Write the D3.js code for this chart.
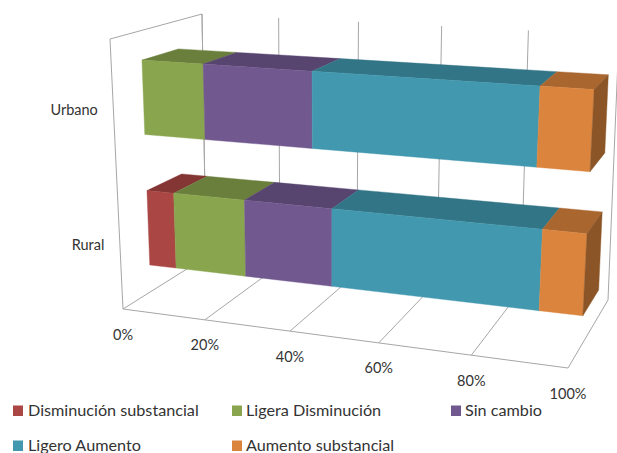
<!DOCTYPE html>
<html><head><meta charset="utf-8">
<script src="https://cdn.jsdelivr.net/npm/d3@7/dist/d3.min.js"></script>
<style>html,body{margin:0;padding:0;background:#fff}svg{display:block}text{font-family:Lato,"Open Sans",sans-serif;fill:#333333}</style>
</head><body><div id="c"></div>
<script>
const categories = ["Rural", "Urbano"];
const seriesNames = ["Disminución substancial", "Ligera Disminución", "Sin cambio", "Ligero Aumento", "Aumento substancial"];
const rural  = [6.7, 17.3, 20.6, 46.2, 9.2];
const urbano = [0, 14.8, 25.3, 49.0, 10.9];
const ticks = [0, 20, 40, 60, 80, 100];
const frontColors = ["#AA4643", "#89A54E", "#71588F", "#4198AF", "#DB843D"];
const topColors   = ["#833634", "#6A7F3C", "#57446F", "#327587", "#A9662F"];
const sideColors  = ["#6F2D2B", "#586A32", "#49395C", "#2A6170", "#8B5527"];

const W = 617, H = 453;
const svg = d3.select("#c").append("svg").attr("width", W).attr("height", H);

// Box corners of the 3D plot on screen: [x,y], indexed by right/back/top
const box = {
  lfb: [123, 309], rfb: [568, 368], lbb: [206, 257], rbb: [608, 300],
  lft: [110, 39],  rft: [584, 68],  lbt: [202, 14],  rbt: [619, 35]
};
const persp = 1.11;
const x = d3.scaleLinear().domain([0, 100]).range([0, 1]);
const warp = t => t / (t + (1 - t) * persp);
const y = d3.scaleBand().domain(categories).range([-0.0055, 0.9945]).paddingInner(0.43).paddingOuter(0.215);
const barDepth = [0.335, 0.735];
const mix = (a, b, k) => [a[0] + (b[0] - a[0]) * k, a[1] + (b[1] - a[1]) * k];
function project(v, d, h) {
  const t = warp(x(v));
  const bottom = mix(mix(box.lfb, box.rfb, t), mix(box.lbb, box.rbb, t), d);
  const top = mix(mix(box.lft, box.rft, t), mix(box.lbt, box.rbt, t), d);
  return mix(bottom, top, h);
}
const line = d3.line();
const gridColor = "#a6a6a6";
const grid = svg.append("g").attr("fill", "none").attr("stroke", gridColor).attr("stroke-width", 1);
function seg(a, b) { grid.append("path").attr("d", line([a, b])); }

// walls and floor
seg(project(0, 0, 0), project(0, 0, 1));
seg(project(0, 0, 1), project(0, 1, 1));
seg(project(0, 1, 1), project(0, 1, 0));
seg(project(0, 0, 0), project(100, 0, 0));
ticks.forEach(v => {
  seg(project(v, 0, 0), project(v, 1, 0));
  seg(project(v, 1, 0), project(v, 1, 1));
});

// bars
const rows = [["Rural", rural], ["Urbano", urbano]];
const bars = svg.append("g");
rows.forEach(([cat, vals]) => {
  const h0 = y(cat), h1 = h0 + y.bandwidth();
  const [d0, d1] = barDepth;
  const stack = d3.cumsum(vals);
  const total = stack[stack.length - 1];
  vals.forEach((val, i) => {
    if (val <= 0) return;
    const a = (stack[i] - val) / total * 100, b = stack[i] / total * 100;
    bars.append("path").attr("fill", topColors[i]).attr("stroke", topColors[i]).attr("stroke-width", 0.4)
      .attr("d", line([project(a, d0, h1), project(b, d0, h1), project(b, d1, h1), project(a, d1, h1)]) + "Z");
  });
  vals.forEach((val, i) => {
    if (val <= 0) return;
    const a = (stack[i] - val) / total * 100, b = stack[i] / total * 100;
    bars.append("path").attr("fill", frontColors[i]).attr("stroke", frontColors[i]).attr("stroke-width", 0.4)
      .attr("d", line([project(a, d0, h0), project(b, d0, h0), project(b, d0, h1), project(a, d0, h1)]) + "Z");
  });
  const last = vals.length - 1;
  bars.append("path").attr("fill", sideColors[last]).attr("stroke", sideColors[last]).attr("stroke-width", 0.4)
    .attr("d", line([project(100, d0, h0), project(100, d1, h0), project(100, d1, h1), project(100, d0, h1)]) + "Z");
  // category label, level with the band on the front edge of the box
  const c = project(0, 0, h0 + y.bandwidth() / 2);
  svg.append("text").attr("x", c[0] - 15.5).attr("y", c[1] + 7).attr("text-anchor", "end")
    .attr("font-size", 14.5).text(cat);
});

// tick labels
ticks.forEach(v => {
  const p = project(v, 0, 0);
  svg.append("text").attr("x", p[0]).attr("y", p[1] + 30.5).attr("text-anchor", "middle")
    .attr("font-size", 14.5).text(v + "%");
});

// legend
const legendX = [13, 232, 451, 13, 232];
const legendY = [411, 411, 411, 446, 446];
const legendText = [28, 246, 465, 28, 246];
seriesNames.forEach((n, i) => {
  svg.append("rect").attr("x", legendX[i]).attr("y", legendY[i] - 5.5).attr("width", 10).attr("height", 10.5).attr("fill", frontColors[i]);
  svg.append("text").attr("x", legendText[i]).attr("y", legendY[i] + 5).attr("font-size", 16.2).text(n);
});
</script></body></html>
